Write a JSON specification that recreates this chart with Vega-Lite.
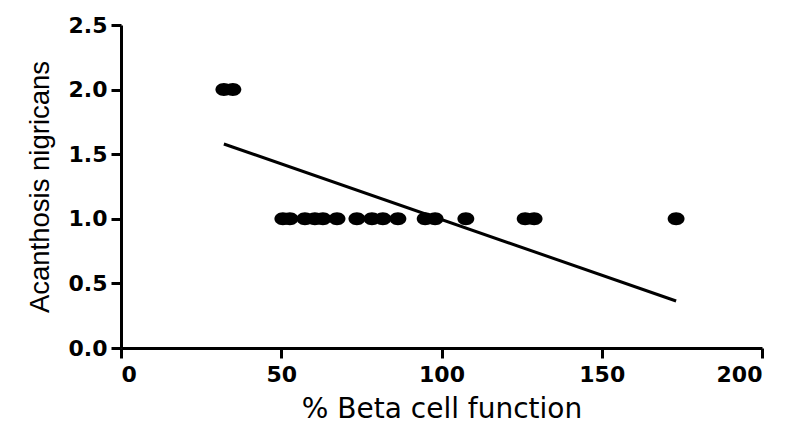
{
  "$schema": "https://vega.github.io/schema/vega-lite/v6.json",
  "width": 641,
  "height": 323,
  "autosize": "none",
  "padding": {"left": 121, "top": 25, "right": 27, "bottom": 75},
  "background": "white",
  "config": {
    "view": {"stroke": null},
    "axis": {
      "grid": false,
      "domainColor": "black",
      "domainWidth": 3,
      "tickColor": "black",
      "tickWidth": 3,
      "tickSize": 10,
      "labelFont": "DejaVu Sans",
      "labelFontWeight": "bold",
      "labelFontSize": 22,
      "labelColor": "black",
      "titleFontWeight": "normal",
      "titleColor": "black"
    }
  },
  "datasets": {
    "pts": [
      {"beta": 32.1, "an": 2},
      {"beta": 34.9, "an": 2},
      {"beta": 50.5, "an": 1},
      {"beta": 52.7, "an": 1},
      {"beta": 57.4, "an": 1},
      {"beta": 60.5, "an": 1},
      {"beta": 63.0, "an": 1},
      {"beta": 67.4, "an": 1},
      {"beta": 73.6, "an": 1},
      {"beta": 78.3, "an": 1},
      {"beta": 81.7, "an": 1},
      {"beta": 86.4, "an": 1},
      {"beta": 94.9, "an": 1},
      {"beta": 98.0, "an": 1},
      {"beta": 107.6, "an": 1},
      {"beta": 126.1, "an": 1},
      {"beta": 128.9, "an": 1},
      {"beta": 173.2, "an": 1}
    ],
    "fit": [
      {"beta": 32.1, "an": 1.579},
      {"beta": 173.2, "an": 0.364}
    ]
  },
  "layer": [
    {
      "data": {"name": "fit"},
      "mark": {"type": "line", "color": "black", "strokeWidth": 3},
      "encoding": {
        "x": {"field": "beta", "type": "quantitative", "scale": {"domain": [0, 200], "nice": false},
              "axis": {"values": [0, 50, 100, 150, 200], "title": "% Beta cell function", "labelPadding": 6, "titlePadding": 10,
                       "titleFont": "DejaVu Sans", "titleFontSize": 28}},
        "y": {"field": "an", "type": "quantitative", "scale": {"domain": [0, 2.5], "nice": false},
              "axis": {"values": [0, 0.5, 1, 1.5, 2, 2.5], "format": ".1f", "title": "Acanthosis nigricans", "labelPadding": 4, "titlePadding": 14,
                       "titleFont": "Liberation Sans", "titleFontSize": 27.5}}
      }
    },
    {
      "data": {"name": "pts"},
      "mark": {"type": "point", "filled": true, "color": "black", "opacity": 1,
               "shape": "M -1.3 0 A 1.3 1 0 1 1 1.3 0 A 1.3 1 0 1 1 -1.3 0 Z", "size": 169},
      "encoding": {
        "x": {"field": "beta", "type": "quantitative"},
        "y": {"field": "an", "type": "quantitative"}
      }
    }
  ]
}
